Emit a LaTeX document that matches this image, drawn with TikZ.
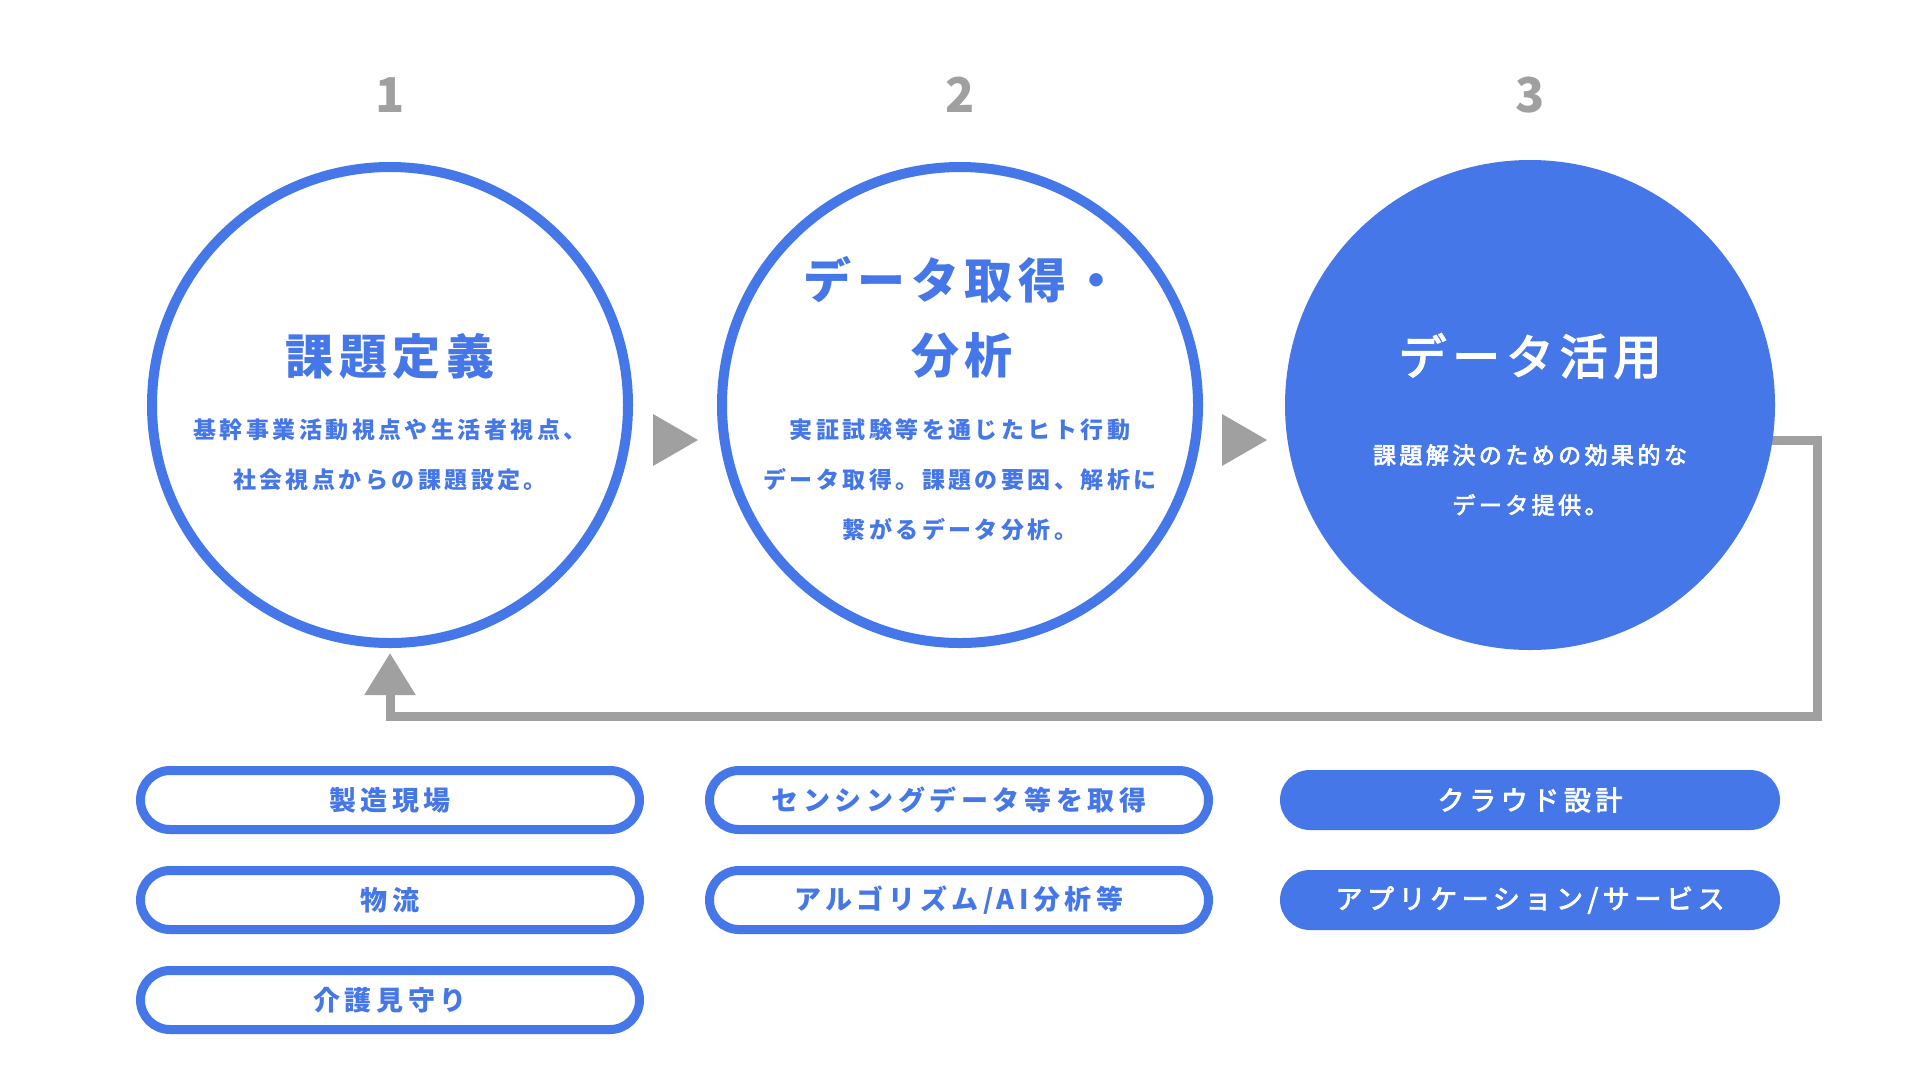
\documentclass[tikz,border=0pt]{standalone}
\usepackage{fontspec}
\usetikzlibrary{arrows.meta,calc}
\newfontfamily\jpTitle[LetterSpace=12]{Noto Sans CJK JP}
\newfontfamily\jpSub[LetterSpace=15]{Noto Sans CJK JP}
\newfontfamily\jpPill[LetterSpace=17]{Noto Sans CJK JP}
\newfontfamily\jpTitleW[LetterSpace=12,FakeBold=3]{Noto Sans CJK JP}
\newfontfamily\jpSubW[LetterSpace=15,FakeBold=3]{Noto Sans CJK JP}
\newfontfamily\jpPillW[LetterSpace=17,FakeBold=3]{Noto Sans CJK JP}
\newfontfamily\jpNum{Noto Sans CJK JP}
\definecolor{myblue}{HTML}{4577E8}
\definecolor{mygray}{HTML}{A0A0A0}
\tikzset{
  ring/.style={circle, draw=myblue, line width=10pt, fill=white, minimum size=476pt, inner sep=0pt},
  disc/.style={circle, fill=myblue, minimum size=490pt, inner sep=0pt},
  numlabel/.style={font=\jpNum\bfseries\fontsize{48}{48}\selectfont, text=mygray},
  ctitle/.style={font=\jpTitle\bfseries\fontsize{48}{75}\selectfont, text=myblue, align=center, inner sep=0pt},
  csub/.style={font=\jpSub\bfseries\fontsize{23}{50}\selectfont, text=myblue, align=center, inner sep=0pt},
  wtitle/.style={font=\jpTitleW\fontsize{48}{75}\selectfont, text=white, align=center, inner sep=0pt},
  wsub/.style={font=\jpSubW\fontsize{23}{50}\selectfont, text=white, align=center, inner sep=0pt},
  pillo/.style={rectangle, rounded corners=29.5pt, draw=myblue, line width=9pt, fill=white,
     minimum width=499pt, minimum height=59pt, inner sep=0pt,
     font=\jpPill\bfseries\fontsize{27}{27}\selectfont, text=myblue},
  pillf/.style={rectangle, rounded corners=30pt, fill=myblue,
     minimum width=500pt, minimum height=60pt, inner sep=0pt,
     font=\jpPillW\fontsize{27}{27}\selectfont, text=white},
  fb/.style={draw=mygray, line width=9pt, -{Triangle[length=42pt,width=49pt]}},
  tri/.style={fill=mygray}
}
\begin{document}
\begin{tikzpicture}[x=1pt,y=-1pt]
\useasboundingbox (0,0) rectangle (1920,1080);
\fill[white] (0,0) rectangle (1920,1080);

% numbers
\node[numlabel] (n1) at (390,95) {1};
\node[numlabel] (n2) at (960,95) {2};
\node[numlabel] (n3) at (1530,95) {3};

% circles 1 and 2
\node[ring] (c1) at (390,405) {};
\node[ring] (c2) at (960,405) {};

% feedback connector (drawn before circle 3 so it hides the start)
\coordinate (fbstart) at (1700,440);
\coordinate (fbcorner) at (1817,716);
\coordinate (fbtip) at ($(c1.center)+(0,248)$);
\draw[fb] (fbstart) -| (fbcorner) -| (fbtip);

% circle 3
\node[disc] (c3) at (1530,405) {};

% texts in circles
\node[ctitle] (t1) at (390,356) {課題定義};
\node[csub] (s1) at (390,455) {基幹事業活動視点や生活者視点、\\社会視点からの課題設定。};

\node[ctitle] (t2) at (962,317) {データ取得・\\分析};
\node[csub] (s2) at (960,480) {実証試験等を通じたヒト行動\\データ取得。課題の要因、解析に\\繋がるデータ分析。};

\node[wtitle] (t3) at (1530,356) {データ活用};
\node[wsub] (s3) at (1530,480) {課題解決のための効果的な\\データ提供。};

% arrows between circles
\fill[tri] (653,414) -- (653,466) -- (698,440) -- cycle;
\fill[tri] (1222,414) -- (1222,466) -- (1267,440) -- cycle;

% pills column 1
\node[pillo] (p11) at (390,800) {製造現場};
\node[pillo] (p12) at (390,900) {物流};
\node[pillo] (p13) at (390,1000) {介護見守り};
% pills column 2
\node[pillo] (p21) at (959,800) {センシングデータ等を取得};
\node[pillo] (p22) at (959,900) {アルゴリズム/AI分析等};
% pills column 3
\node[pillf] (p31) at (1530,800) {クラウド設計};
\node[pillf] (p32) at (1530,900) {アプリケーション/サービス};
\end{tikzpicture}
\end{document}
